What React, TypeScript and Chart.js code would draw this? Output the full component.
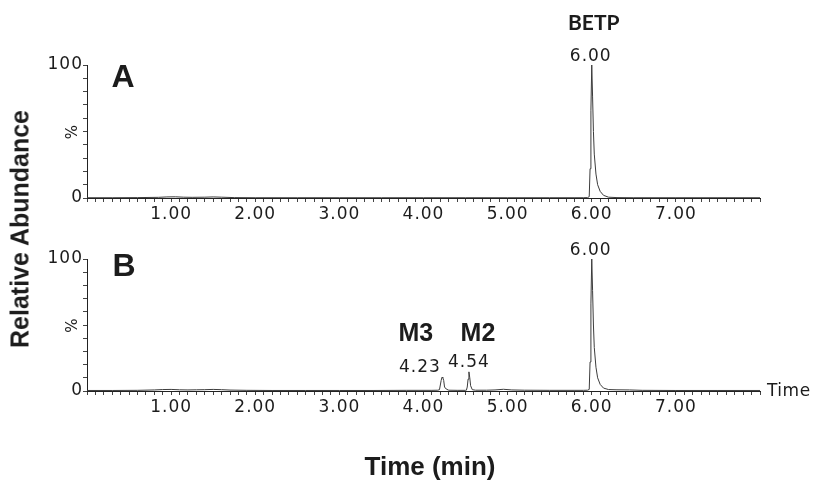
import React, { useEffect, useRef } from 'react';
import { Chart, registerables } from 'chart.js';

Chart.register(...registerables);

// ---- data ----
const timesA = [0.0, 0.3, 0.6, 0.85, 0.95, 1.05, 1.15, 1.25, 1.4, 1.5, 1.6, 1.75, 2.0, 2.5, 3.0, 3.5, 4.0, 4.5, 5.0, 5.5, 5.8, 5.9, 5.95, 5.97, 5.98, 5.99, 6.0, 6.01, 6.02, 6.03, 6.05, 6.07, 6.1, 6.14, 6.2, 6.3, 6.5, 7.0, 7.5, 8.0];
const abundA = [0.2, 0.2, 0.3, 0.5, 0.8, 0.9, 0.6, 0.5, 0.6, 0.8, 0.6, 0.3, 0.2, 0.2, 0.2, 0.2, 0.2, 0.2, 0.2, 0.2, 0.2, 0.2, 0.3, 1.0, 22, 66, 100, 76, 50, 33, 18, 10, 5, 2, 0.6, 0.3, 0.2, 0.2, 0.2, 0.2];

const timesB = [0.0, 0.3, 0.6, 0.8, 0.9, 1.0, 1.1, 1.2, 1.3, 1.4, 1.5, 1.6, 1.7, 1.9, 2.2, 2.6, 3.0, 3.4, 3.8, 4.1, 4.17, 4.19, 4.21, 4.22, 4.23, 4.24, 4.25, 4.27, 4.3, 4.4, 4.5, 4.51, 4.52, 4.53, 4.54, 4.55, 4.56, 4.58, 4.62, 4.75, 4.85, 4.95, 5.05, 5.2, 5.5, 5.8, 5.9, 5.95, 5.97, 5.98, 5.99, 6.0, 6.01, 6.02, 6.03, 6.05, 6.07, 6.1, 6.14, 6.2, 6.3, 6.45, 6.6, 7.0, 7.5, 8.0];
const abundB = [0.4, 0.4, 0.5, 0.8, 1.1, 1.2, 0.9, 0.8, 0.9, 1.0, 1.2, 1.0, 0.7, 0.5, 0.4, 0.4, 0.4, 0.4, 0.5, 0.5, 0.6, 1.0, 8, 10.5, 10, 8, 3, 1.5, 0.6, 0.5, 0.5, 0.6, 3, 9, 14.5, 10, 4, 1, 0.6, 0.6, 0.8, 1.3, 0.8, 0.6, 0.5, 0.5, 0.5, 0.6, 1.2, 22, 66, 100, 76, 50, 33, 18, 10, 5, 2.2, 1.1, 0.9, 0.8, 0.5, 0.4, 0.4, 0.4];

const majorTicks = [1, 2, 3, 4, 5, 6, 7];
const yTickLabels = [0, 100];

const X_MIN = 0;
const X_MAX = 8;

const NUM_FONT = 'DejaVu Sans';
const TEXT_COLOR = '#1c1c1c';

type Note = { text: string; font: string; y: number; x?: number; t?: number; dx?: number; align?: CanvasTextAlign; spacing?: string };

const notesA: Note[] = [
  { text: 'A', font: 'bold 32px "Liberation Sans", Arial', x: 123, y: 78 },
  { text: 'BETP', font: 'bold 21px Lato', t: 6.0, dx: 2, y: 23 },
  { text: '6.00', font: `17px "${NUM_FONT}"`, t: 6.0, dx: -1, y: 57, spacing: '1px' },
];

const notesB: Note[] = [
  { text: 'B', font: 'bold 32px "Liberation Sans", Arial', x: 124, y: 37 },
  { text: 'M3', font: 'bold 25px "Liberation Sans", Arial', t: 4.23, dx: -27, y: 104 },
  { text: 'M2', font: 'bold 25px "Liberation Sans", Arial', t: 4.54, dx: 9, y: 104 },
  { text: '4.23', font: `17px "${NUM_FONT}"`, t: 4.23, dx: -23, y: 138, spacing: '1px' },
  { text: '4.54', font: `17px "${NUM_FONT}"`, t: 4.54, dx: 0, y: 133, spacing: '1px' },
  { text: '6.00', font: `17px "${NUM_FONT}"`, t: 6.0, dx: -1, y: 21, spacing: '1px' },
  { text: 'Time', font: `17px "${NUM_FONT}"`, x: 767, y: 162, align: 'left', spacing: '0.5px' },
  { text: 'Time (min)', font: 'bold 26px "Liberation Sans", Arial', x: 430, y: 238 },
];

function notesPlugin(notes: Note[]) {
  return {
    id: 'notes',
    beforeDraw(chart: any) {
      (chart.ctx as any).letterSpacing = '1px';
    },
    afterDraw(chart: any) {
      const ctx = chart.ctx as any;
      const xs = chart.scales.x;
      ctx.save();
      ctx.fillStyle = TEXT_COLOR;
      ctx.textBaseline = 'middle';
      for (const n of notes) {
        ctx.font = n.font;
        ctx.letterSpacing = n.spacing || '0px';
        ctx.textAlign = n.align || 'center';
        const x = n.t !== undefined ? xs.getPixelForValue(n.t) + (n.dx || 0) : (n.x as number);
        ctx.fillText(n.text, x, n.y);
      }
      ctx.restore();
      ctx.letterSpacing = '0px';
    },
  };
}

function makeConfig(times: number[], abund: number[], notes: Note[], padding: any) {
  const points = times.map((t, i) => ({ x: t, y: abund[i] }));
  return {
    type: 'line' as const,
    data: {
      datasets: [
        {
          data: points,
          borderColor: '#3c3c3c',
          borderWidth: 1,
          pointRadius: 0,
          tension: 0,
          fill: false,
        },
      ],
    },
    options: {
      animation: false,
      responsive: false,
      devicePixelRatio: 1,
      layout: { padding },
      plugins: { legend: { display: false }, tooltip: { enabled: false }, title: { display: false } },
      scales: {
        x: {
          type: 'linear',
          min: X_MIN,
          max: X_MAX,
          afterFit: (s: any) => { s.height = 32; },
          border: { display: true, color: '#222', width: 1 },
          grid: { drawOnChartArea: false, drawTicks: true, tickLength: 4, color: '#444' },
          ticks: {
            stepSize: 0.1,
            maxTicksLimit: 1000,
            autoSkip: false,
            maxRotation: 0,
            minRotation: 0,
            padding: 2,
            color: TEXT_COLOR,
            font: { family: NUM_FONT, size: 17 },
            callback: (v: number) => {
              const r = Math.round(v);
              return Math.abs(v - r) < 1e-6 && majorTicks.includes(r) ? r.toFixed(2) : '';
            },
          },
        },
        y: {
          min: 0,
          max: 100,
          afterFit: (s: any) => { s.width = 47; },
          border: { display: true, color: '#222', width: 1 },
          grid: { drawOnChartArea: false, drawTicks: true, tickLength: 4, color: '#444' },
          title: { display: true, text: '%', color: TEXT_COLOR, font: { family: NUM_FONT, size: 15 }, padding: { top: 24, bottom: 0 } },
          ticks: {
            stepSize: 10,
            autoSkip: false,
            padding: 0,
            color: TEXT_COLOR,
            font: { family: NUM_FONT, size: 17 },
            callback: (v: number) => (yTickLabels.includes(Math.round(v)) && Math.abs(v - Math.round(v)) < 1e-6 ? String(Math.round(v)) : ''),
          },
        },
      },
    },
    plugins: [notesPlugin(notes)],
  };
}

export default function App() {
  const refA = useRef<HTMLCanvasElement | null>(null);
  const refB = useRef<HTMLCanvasElement | null>(null);

  useEffect(() => {
    if (!refA.current || !refB.current) return;
    const a = new Chart(refA.current, makeConfig(timesA, abundA, notesA, { top: 65, right: 53, bottom: 0, left: 40 }) as any);
    const b = new Chart(refB.current, makeConfig(timesB, abundB, notesB, { top: 29, right: 53, bottom: 58, left: 40 }) as any);
    return () => {
      a.destroy();
      b.destroy();
    };
  }, []);

  return (
    <div style={{ position: 'absolute', left: 0, top: 0, width: 813, height: 481, background: '#fff', overflow: 'hidden' }}>
      <canvas ref={refA} width={813} height={230} style={{ position: 'absolute', left: 0, top: 0, width: 813, height: 230 }} />
      <canvas ref={refB} width={813} height={251} style={{ position: 'absolute', left: 0, top: 230, width: 813, height: 251 }} />
      <div
        style={{
          position: 'absolute',
          left: 20,
          top: 229,
          transform: 'translate(-50%, -50%) rotate(-90deg)',
          whiteSpace: 'nowrap',
          font: 'bold 25px "Liberation Sans", Arial, sans-serif',
          color: TEXT_COLOR,
          lineHeight: 1,
        }}
      >
        Relative Abundance
      </div>
    </div>
  );
}
